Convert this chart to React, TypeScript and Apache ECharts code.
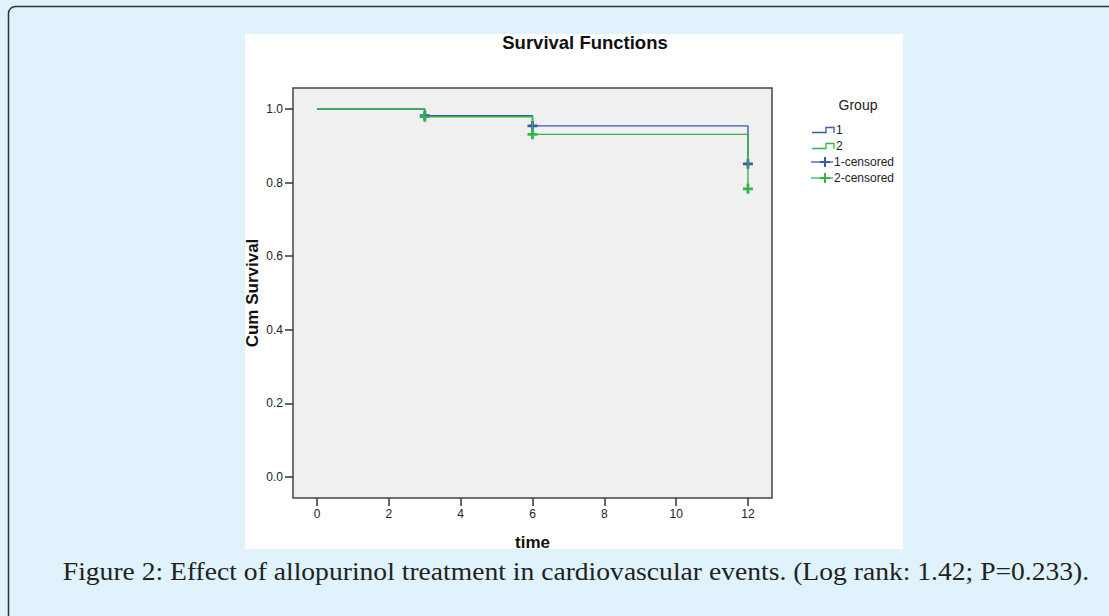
import React, { useEffect, useRef } from "react";
import * as echarts from "echarts";

// ---- data ----
const eventTimes = [0, 3, 6, 12];
const survivalGroup1 = [1.0, 0.982, 0.954, 0.851];
const survivalGroup2 = [1.0, 0.979, 0.931, 0.783];
const censorTimes = [3, 6, 12];
const censorGroup1 = [0.982, 0.954, 0.851];
const censorGroup2 = [0.979, 0.931, 0.783];
const xTickValues = [0, 2, 4, 6, 8, 10, 12];
const yTickValues = [0, 0.2, 0.4, 0.6, 0.8, 1.0];
const seriesNames = ["1", "2", "1-censored", "2-censored"];
const legendTitle = "Group";
const chartTitle = "Survival Functions";
const xAxisTitle = "time";
const yAxisTitle = "Cum Survival";
const caption =
  "Figure 2: Effect of allopurinol treatment in cardiovascular events. (Log rank: 1.42; P=0.233).";

const BLUE = "#3E58AC";
const GREEN = "#2EB848";
const PLUS =
  "path://M3.6,0h2.8v3.6h3.6v2.8h-3.6v3.6h-2.8v-3.6h-3.6v-2.8h3.6z";

const zip = (xs: number[], ys: number[]) => xs.map((x, i) => [x, ys[i]]);

export default function App() {
  const ref = useRef<HTMLDivElement>(null);
  useEffect(() => {
    if (!ref.current) return;
    const chart = echarts.init(ref.current, null, { renderer: "svg" });
    const sans = "Liberation Sans, Arial, sans-serif";
    const legendItems: any[] = [];
    const legY = [130, 146, 162, 178];
    [BLUE, GREEN].forEach((c, i) => {
      const y = legY[i];
      legendItems.push({
        type: "polyline",
        shape: { points: [[812, y + 2.5], [826, y + 2.5], [826, y - 2.5], [834, y - 2.5], [834, y + 3]] },
        style: { stroke: c, lineWidth: 1.3, fill: null },
      });
      legendItems.push({
        type: "text",
        x: 836,
        y,
        style: { text: seriesNames[i], font: `12px ${sans}`, fill: "#222", verticalAlign: "middle" },
      });
    });
    [BLUE, GREEN].forEach((c, i) => {
      const y = legY[i + 2];
      legendItems.push({ type: "line", shape: { x1: 811, y1: y, x2: 833, y2: y }, style: { stroke: c, lineWidth: 1.3 } });
      legendItems.push({ type: "line", shape: { x1: 825, y1: y - 5, x2: 825, y2: y + 5 }, style: { stroke: c, lineWidth: 2 } });
      legendItems.push({ type: "line", shape: { x1: 820, y1: y, x2: 830, y2: y }, style: { stroke: c, lineWidth: 2 } });
      legendItems.push({
        type: "text",
        x: 834,
        y,
        style: { text: seriesNames[i + 2], font: `12px ${sans}`, fill: "#222", verticalAlign: "middle" },
      });
    });

    chart.setOption({
      animation: false,
      backgroundColor: "#e0f2fc",
      graphic: [
        {
          type: "rect",
          z: -10,
          silent: true,
          shape: { x: 8.5, y: 6.5, width: 1200, height: 700, r: 7 },
          style: { fill: "#e0f2fc", stroke: "#333", lineWidth: 1.5 },
        },
        {
          type: "rect",
          z: -9,
          silent: true,
          shape: { x: 245, y: 34, width: 658, height: 515 },
          style: { fill: "#ffffff" },
        },
        {
          type: "text",
          x: 585,
          y: 42,
          style: { text: chartTitle, font: `bold 18.5px ${sans}`, fill: "#111", align: "center", verticalAlign: "middle" },
        },
        {
          type: "text",
          x: 858,
          y: 105,
          style: { text: legendTitle, font: `14px ${sans}`, fill: "#222", align: "center", verticalAlign: "middle" },
        },
        ...legendItems,
        {
          type: "text",
          x: 576,
          y: 571,
          scaleX: 1.062,
          originX: 0,
          style: {
            text: caption,
            font: `26px "Liberation Serif", serif`,
            fill: "#222",
            align: "center",
            verticalAlign: "middle",
          },
        },
      ],
      grid: {
        left: 293,
        right: 337,
        top: 88,
        bottom: 118,
        show: true,
        backgroundColor: "#f0f0f0",
        borderColor: "#444",
        borderWidth: 1.5,
      },
      xAxis: {
        type: "value",
        min: -0.67,
        max: 12.67,
        name: xAxisTitle,
        nameLocation: "middle",
        nameGap: 36,
        nameTextStyle: { fontFamily: sans, fontWeight: "bold", fontSize: 17, color: "#111" },
        axisLine: { show: false, onZero: false },
        splitLine: { show: false },
        axisTick: { show: true, length: 8, customValues: xTickValues, lineStyle: { color: "#333", width: 1.5 } },
        axisLabel: { customValues: xTickValues, margin: 10, fontFamily: sans, fontSize: 12, color: "#222" },
      },
      yAxis: {
        type: "value",
        min: -0.057,
        max: 1.057,
        name: yAxisTitle,
        nameLocation: "middle",
        nameGap: 32,
        nameTextStyle: { fontFamily: sans, fontWeight: "bold", fontSize: 17, color: "#111" },
        axisLine: { show: false, onZero: false },
        splitLine: { show: false },
        axisTick: { show: true, length: 8, customValues: yTickValues, lineStyle: { color: "#333", width: 1.5 } },
        axisLabel: {
          customValues: yTickValues,
          margin: 10,
          fontFamily: sans,
          fontSize: 12,
          color: "#222",
          formatter: (v: number) => v.toFixed(1),
        },
      },
      series: [
        {
          name: seriesNames[0],
          type: "line",
          step: "end",
          data: zip(eventTimes, survivalGroup1),
          showSymbol: false,
          lineStyle: { color: BLUE, width: 1.4 },
          itemStyle: { color: BLUE },
        },
        {
          name: seriesNames[1],
          type: "line",
          step: "end",
          data: zip(eventTimes, survivalGroup2),
          showSymbol: false,
          lineStyle: { color: GREEN, width: 1.4 },
          itemStyle: { color: GREEN },
        },
        {
          name: seriesNames[2],
          type: "scatter",
          data: zip(censorTimes, censorGroup1),
          symbol: PLUS,
          symbolSize: 10,
          itemStyle: { color: BLUE, opacity: 1 },
        },
        {
          name: seriesNames[3],
          type: "scatter",
          data: zip(censorTimes, censorGroup2),
          symbol: PLUS,
          symbolSize: 10,
          itemStyle: { color: GREEN, opacity: 1 },
        },
      ],
    });
    return () => chart.dispose();
  }, []);
  return (
    <div
      ref={ref}
      style={{ position: "absolute", left: 0, top: 0, width: 1109, height: 616 }}
    />
  );
}
